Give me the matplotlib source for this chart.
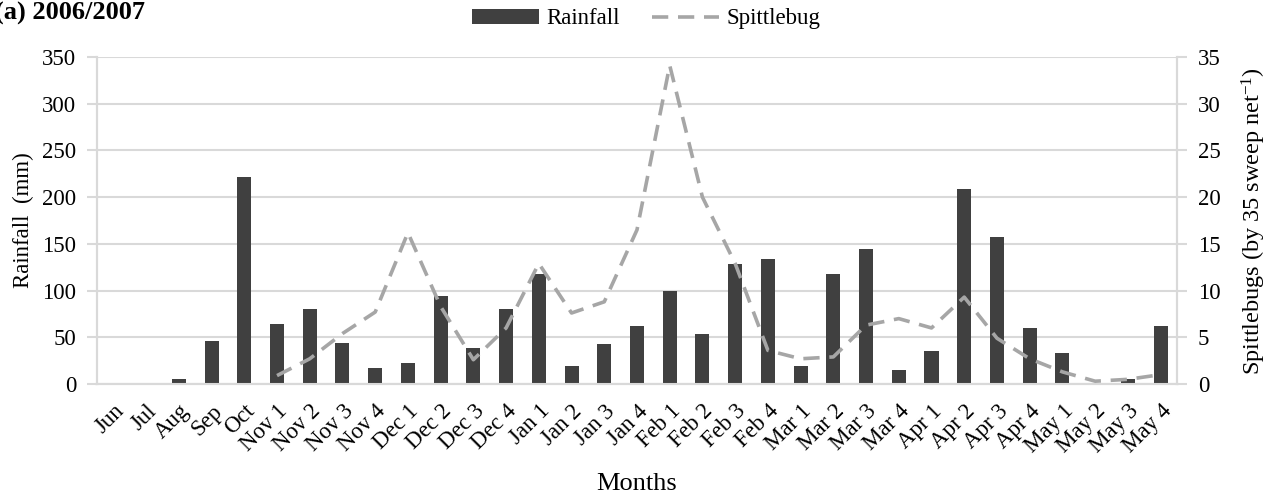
import matplotlib
matplotlib.use("Agg")
import matplotlib.pyplot as plt
import numpy as np
from matplotlib.lines import Line2D
from matplotlib.patches import Patch

plt.rcParams['font.family'] = ['Liberation Serif', 'DejaVu Serif']
plt.rcParams['mathtext.fontset'] = 'custom'
plt.rcParams['mathtext.rm'] = 'Liberation Serif'
plt.rcParams['mathtext.default'] = 'regular'

categories = ["Jun", "Jul", "Aug", "Sep", "Oct",
              "Nov 1", "Nov 2", "Nov 3", "Nov 4",
              "Dec 1", "Dec 2", "Dec 3", "Dec 4",
              "Jan 1", "Jan 2", "Jan 3", "Jan 4",
              "Feb 1", "Feb 2", "Feb 3", "Feb 4",
              "Mar 1", "Mar 2", "Mar 3", "Mar 4",
              "Apr 1", "Apr 2", "Apr 3", "Apr 4",
              "May 1", "May 2", "May 3", "May 4"]

rainfall = [0, 0, 5, 46, 222,
            64, 80, 44, 17,
            23, 94, 39, 80,
            118, 19, 43, 62,
            100, 53, 128, 134,
            19, 118, 145, 15,
            35, 209, 157, 60,
            33, 0, 5, 62]

spittlebug = [np.nan, np.nan, np.nan, np.nan, np.nan,
              0.9, 2.7, 5.4, 7.7,
              16.2, 8.3, 2.6, 6.0,
              12.9, 7.6, 8.8, 16.5,
              34.1, 20.0, 12.9, 3.6,
              2.7, 2.9, 6.3, 7.0,
              6.0, 9.3, 4.9, 2.7,
              1.3, 0.3, 0.5, 1.0]

fig = plt.figure(figsize=(12.8, 4.98), dpi=100)
ax = fig.add_axes([0.0758, 0.2289, 0.8437, 0.6566])
ax2 = ax.twinx()

x = np.arange(len(categories))
grid_c = '#d9d9d9'

ax.bar(x, rainfall, width=0.43, color='#404040', zorder=3)
ax.set_ylim(0, 350)
ax.set_yticks(np.arange(0, 351, 50))
ax.set_xlim(-0.5, len(categories) - 0.5)
ax.yaxis.grid(True, color=grid_c, linewidth=1.5, zorder=0)
ax.set_axisbelow(True)
ax.set_xticks(x)
ax.set_xticklabels(categories, rotation=45, ha='right', rotation_mode='anchor', fontsize=16.5)
ax.tick_params(axis='x', length=0, pad=12)
ax.tick_params(axis='y', labelsize=16.5, length=7, width=1.5, color=grid_c, pad=8)
ax.set_ylabel("Rainfall  (mm)", fontsize=16.5, labelpad=6)
ax.set_xlabel("Months", fontsize=19, labelpad=11)

ax2.plot(x, spittlebug, color='#a6a6a6', linewidth=2.6, linestyle=(0, (4.5, 2.7)), zorder=4)
ax2.set_ylim(0, 35)
ax2.set_yticks(np.arange(0, 36, 5))
ax2.tick_params(axis='y', labelsize=16.5, length=7, width=1.5, color=grid_c, pad=8)
ax2.set_ylabel("Spittlebugs (by 35 sweep net$^{-1}$)", fontsize=17.5, labelpad=14)

for a in (ax, ax2):
    a.spines['top'].set_visible(False)
    for s in ['left', 'right', 'bottom']:
        a.spines[s].set_color(grid_c)
        a.spines[s].set_linewidth(1.5)

handles = [Patch(facecolor='#404040', edgecolor='none'),
           Line2D([0], [0], color='#a6a6a6', linewidth=2.6, linestyle=(0, (4.5, 2.7)))]
fig.legend(handles, ["Rainfall", "Spittlebug"], loc='center', bbox_to_anchor=(0.505, 0.962),
           ncol=2, frameon=False, fontsize=16.5, handlelength=2.9, handleheight=0.6,
           columnspacing=1.4, handletextpad=0.35)

fig.text(-0.004, 0.972, "(a) 2006/2007", fontsize=19, fontweight='bold', ha='left', va='center')

fig.savefig("out.png", dpi=100)
